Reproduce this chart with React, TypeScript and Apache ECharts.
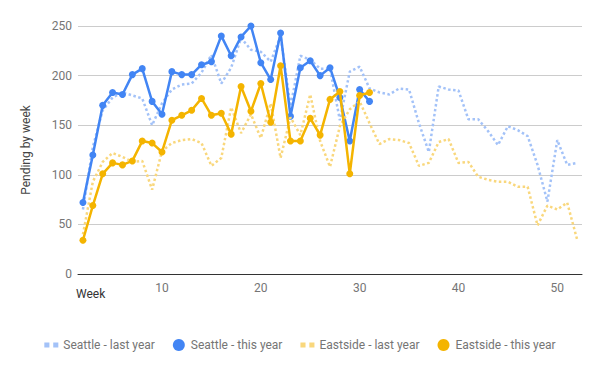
import React, { useEffect, useRef } from "react";
import * as echarts from "echarts";

const weeks = [
  "2","3","4","5","6","7","8","9","10","11","12","13","14","15","16","17","18","19","20","21",
  "22","23","24","25","26","27","28","29","30","31","32","33","34","35","36","37","38","39","40","41",
  "42","43","44","45","46","47","48","49","50","51","52",
];
const xTickLabels = ["10", "20", "30", "40", "50"];
const yMax = 250;
const yStep = 50;

const seattleLastYear = [
  65, 128, 165, 178, 183, 180, 177, 150, 172, 186, 191, 192, 203, 221, 192, 208, 238, 226, 224, 214,
  240, 169, 220, 216, 207, 207, 155, 204, 209, 187, 183, 181, 187, 186, 152, 123, 189, 186, 185, 156,
  156, 144, 130, 149, 145, 139, 110, 73, 135, 110, 112,
];
const seattleThisYear = [
  72, 120, 170, 183, 181, 201, 207, 174, 161, 204, 201, 201, 211, 214, 240, 220, 239, 250, 213, 196,
  243, 159, 208, 215, 200, 208, 178, 134, 186, 174,
];
const eastsideLastYear = [
  40, 93, 113, 122, 118, 113, 114, 85, 124, 132, 135, 136, 132, 109, 117, 168, 142, 161, 137, 172,
  117, 158, 140, 181, 134, 108, 149, 166, 174, 152, 131, 136, 135, 132, 109, 112, 133, 136, 112, 113,
  98, 95, 93, 93, 88, 88, 49, 69, 65, 72, 35,
];
const eastsideThisYear = [
  34, 69, 101, 112, 110, 114, 134, 132, 123, 155, 160, 165, 177, 160, 162, 141, 189, 164, 192, 153,
  210, 134, 134, 157, 140, 176, 184, 101, 180, 183,
];

const BLUE = "#4285f4";
const BLUE_LIGHT = "#a3c2f8";
const YELLOW = "#f4b400";
const YELLOW_LIGHT = "#f9d77c";
const TWO_DOTS = "path://M0,0h4v4h-4zM7,0h4v4h-4z";

export default function App() {
  const ref = useRef<HTMLDivElement>(null);
  useEffect(() => {
    if (!ref.current) return;
    const chart = echarts.init(ref.current, undefined, { renderer: "svg" });
    const dotted = (color: string) => ({
      color,
      width: 2.5,
      type: [2.5, 2.5] as number[],
    });
    chart.setOption({
      animation: false,
      textStyle: { fontFamily: "Roboto, Arial, sans-serif" },
      grid: { left: 78, right: 18, top: 26, bottom: 97, containLabel: false },
      xAxis: {
        type: "category",
        data: weeks,
        boundaryGap: true,
        axisLine: { show: true, lineStyle: { color: "#333333", width: 1 } },
        axisTick: { show: false },
        axisLabel: {
          interval: (_i: number, v: string) => xTickLabels.includes(v),
          color: "#757575",
          fontSize: 12,
          margin: 8,
        },
        splitLine: { show: false },
      },
      yAxis: {
        type: "value",
        min: 0,
        max: yMax,
        interval: yStep,
        name: "Pending by week",
        nameLocation: "middle",
        nameGap: 46,
        nameTextStyle: { color: "#444444", fontSize: 12 },
        axisLine: { show: false },
        axisTick: { show: false },
        axisLabel: { color: "#757575", fontSize: 12, margin: 6 },
        splitLine: { lineStyle: { color: "#cccccc", width: 1 } },
      },
      legend: {
        top: 334,
        left: "center",
        itemWidth: 14,
        itemHeight: 12,
        itemGap: 18,
        textStyle: { color: "#757575", fontSize: 12 },
        itemStyle: { borderWidth: 0 },
        data: [
          { name: "Seattle - last year", icon: TWO_DOTS },
          { name: "Seattle - this year", icon: "circle" },
          { name: "Eastside - last year", icon: TWO_DOTS },
          { name: "Eastside - this year", icon: "circle" },
        ],
      },
      graphic: [
        {
          type: "text",
          left: 76,
          top: 288,
          style: { text: "Week", fill: "#333333", fontSize: 12, fontFamily: "Roboto, Arial, sans-serif" },
        },
      ],
      series: [
        {
          name: "Seattle - last year",
          type: "line",
          data: seattleLastYear,
          symbol: "none",
          lineStyle: dotted(BLUE_LIGHT),
          itemStyle: { color: BLUE_LIGHT },
          z: 1,
        },
        {
          name: "Seattle - this year",
          type: "line",
          data: seattleThisYear,
          symbol: "circle",
          symbolSize: 7,
          showAllSymbol: true,
          lineStyle: { color: BLUE, width: 2.5 },
          itemStyle: { color: BLUE, borderWidth: 0 },
          z: 2,
        },
        {
          name: "Eastside - last year",
          type: "line",
          data: eastsideLastYear,
          symbol: "none",
          lineStyle: dotted(YELLOW_LIGHT),
          itemStyle: { color: YELLOW_LIGHT },
          z: 3,
        },
        {
          name: "Eastside - this year",
          type: "line",
          data: eastsideThisYear,
          symbol: "circle",
          symbolSize: 7,
          showAllSymbol: true,
          lineStyle: { color: YELLOW, width: 2.5 },
          itemStyle: { color: YELLOW, borderWidth: 0 },
          z: 4,
        },
      ],
    });
    return () => chart.dispose();
  }, []);
  return (
    <div
      ref={ref}
      style={{ position: "fixed", left: 0, top: 0, width: 600, height: 371, background: "#ffffff" }}
    />
  );
}
